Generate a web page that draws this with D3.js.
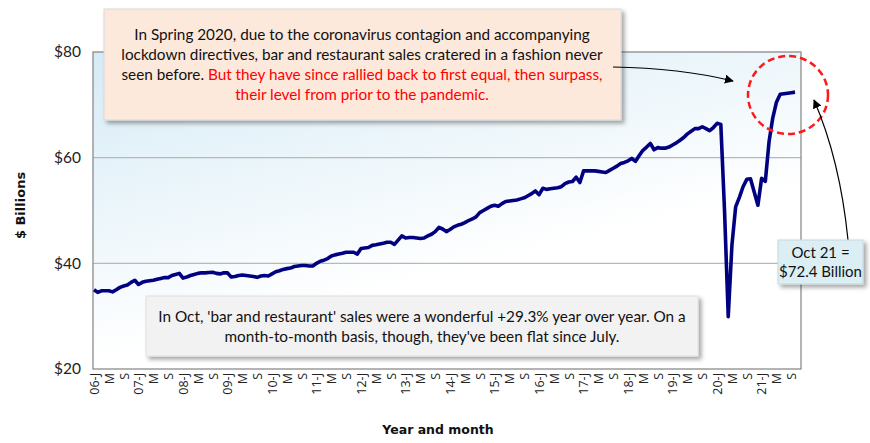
<!DOCTYPE html>
<html><head><meta charset="utf-8">
<script src="https://cdn.jsdelivr.net/npm/d3@7"></script>
<style>
body{margin:0;background:#fff;}
svg{display:block;}
</style></head>
<body><svg id="c" width="870" height="443"></svg>
<script>
// ---- data ----
const startYear = 2006;
const monthLetters = ["J","F","M","A","M","J","J","A","S","O","N","D"];
const values = [
  // 2006
  35.0,34.5,34.8,34.8,34.8,34.6,35.0,35.45,35.7,35.9,36.4,36.8,
  // 2007
  36.0,36.4,36.6,36.7,36.8,37.0,37.15,37.3,37.3,37.7,37.9,38.1,
  // 2008
  37.2,37.4,37.7,37.9,38.1,38.2,38.2,38.25,38.3,38.1,38.0,38.2,
  // 2009
  38.2,37.4,37.5,37.7,37.8,37.7,37.6,37.5,37.35,37.6,37.7,37.6,
  // 2010
  38.0,38.4,38.6,38.85,39.0,39.1,39.4,39.5,39.6,39.6,39.5,39.5,
  // 2011
  40.0,40.4,40.6,40.9,41.4,41.6,41.75,41.9,42.1,42.1,42.1,41.75,
  // 2012
  42.8,42.9,43.0,43.4,43.5,43.65,43.8,44.0,44.0,43.6,44.4,45.2,
  // 2013
  44.8,44.9,44.9,44.8,44.7,44.8,45.2,45.5,46.0,46.8,46.5,46.0,
  // 2014
  46.4,46.9,47.2,47.4,47.7,48.1,48.4,48.8,49.6,50.0,50.4,50.8,
  // 2015
  51.0,50.8,51.3,51.7,51.8,51.9,52.0,52.2,52.4,52.8,53.2,53.7,
  // 2016
  53.0,54.2,54.0,54.1,54.2,54.3,54.5,55.1,55.4,55.5,56.3,55.3,
  // 2017
  57.5,57.5,57.5,57.5,57.4,57.3,57.2,57.6,58.0,58.4,58.9,59.1,
  // 2018
  59.4,59.85,59.3,60.4,61.4,62.0,62.7,61.5,61.9,61.8,61.8,62.0,
  // 2019
  62.4,62.8,63.3,63.8,64.5,65.0,65.5,65.5,65.85,65.5,65.1,65.7,
  // 2020
  66.5,66.3,50.0,29.9,43.5,50.7,52.5,54.5,55.9,56.0,53.5,51.0,
  // 2021
  56.1,55.5,63.0,67.5,70.5,72.0,72.1,72.2,72.3,72.4
];
const yTicks = [20,40,60,80];
const yTickLabels = ["$20","$40","$60","$80"];
const yTitle = "$ Billions";
const xTitle = "Year and month";
const note1Black = ["In Spring 2020, due to the coronavirus contagion and accompanying",
                    "lockdown directives, bar and restaurant sales cratered in a fashion never"];
const note1Mixed = ["seen before. ", "But they have since rallied back to first equal, then surpass,"];
const note1Red = "their level from prior to the pandemic.";
const note2 = ["Oct 21 =", "$72.4 Billion"];
const note3 = ["In Oct, 'bar and restaurant' sales were a wonderful +29.3% year over year. On a",
               "month-to-month basis, though, they've been flat since July."];

// ---- derived categories ----
const cats = values.map((v,i)=>i);
function catLabel(i){
  const m = i % 12, y = startYear + Math.floor(i/12);
  return m===0 ? String(y).slice(2)+"-J" : monthLetters[m];
}
const tickCats = cats.filter(i => i % 4 === 0);

// ---- layout ----
const plot={l:93,t:52,r:801,b:369};
const svg=d3.select("#c");
const defs=svg.append("defs");
const grad=defs.append("linearGradient").attr("id","bg").attr("x1","0").attr("y1","0").attr("x2","0.55").attr("y2","1");
grad.append("stop").attr("offset","0").attr("stop-color","#d6ebf6");
grad.append("stop").attr("offset","0.75").attr("stop-color","#ffffff");
const sh=defs.append("filter").attr("id","sh").attr("x","-10%").attr("y","-10%").attr("width","130%").attr("height","140%");
sh.append("feDropShadow").attr("dx",3).attr("dy",3).attr("stdDeviation",2).attr("flood-color","#000").attr("flood-opacity",0.35);
defs.append("marker").attr("id","ah").attr("viewBox","0 0 10 10").attr("refX",9).attr("refY",5)
  .attr("markerWidth",9).attr("markerHeight",9).attr("orient","auto-start-reverse").attr("markerUnits","userSpaceOnUse")
  .append("path").attr("d","M0,0 L10,5 L0,10 z").attr("fill","#000");

const x=d3.scalePoint().domain(cats).range([plot.l+1,plot.r-6]);
const y=d3.scaleLinear().domain([20,80]).range([plot.b,plot.t]);

svg.append("rect").attr("x",plot.l).attr("y",plot.t).attr("width",plot.r-plot.l).attr("height",plot.b-plot.t).attr("fill","url(#bg)");

// gridlines
svg.append("g").selectAll("line").data(yTicks.filter(t=>t>20&&t<80)).join("line")
  .attr("x1",plot.l).attr("x2",plot.r).attr("y1",d=>y(d)).attr("y2",d=>y(d))
  .attr("stroke","#b8b8b8").attr("stroke-width",1.3);

svg.append("rect").attr("x",plot.l).attr("y",plot.t).attr("width",plot.r-plot.l).attr("height",plot.b-plot.t)
  .attr("fill","none").attr("stroke","#8c8c8c").attr("stroke-width",1.3);

// y axis labels
const yAxis=d3.axisLeft(y).tickValues(yTicks).tickFormat((d,i)=>yTickLabels[i]).tickSize(0).tickPadding(12);
const gy=svg.append("g").attr("transform",`translate(${plot.l},0)`).call(yAxis);
gy.select(".domain").remove();
gy.selectAll("text").attr("font-family","Lato, sans-serif").attr("font-size",15.5).attr("fill","#222");

// x axis labels
const xAxis=d3.axisBottom(x).tickValues(tickCats).tickFormat(catLabel).tickSize(0).tickPadding(0);
const gx=svg.append("g").attr("transform",`translate(0,${plot.b})`).call(xAxis);
gx.select(".domain").remove();
gx.selectAll("text").attr("font-family","'Open Sans', sans-serif").attr("font-size",12.5).attr("fill","#222")
  .attr("transform","rotate(-90)").attr("text-anchor","end").attr("dy","0.35em").attr("x",-4).attr("y",0);

// titles
svg.append("text").attr("transform",`translate(25,${(plot.t+plot.b)/2-5}) rotate(-90)`).attr("text-anchor","middle")
  .attr("font-family","'DejaVu Sans', sans-serif").attr("font-weight","bold").attr("font-size",13).attr("fill","#111").text(yTitle);
svg.append("text").attr("x",438).attr("y",434).attr("text-anchor","middle")
  .attr("font-family","'DejaVu Sans', sans-serif").attr("font-weight","bold").attr("font-size",12.5).attr("fill","#111").text(xTitle);

// line
svg.append("path").datum(values).attr("fill","none").attr("stroke","#000080").attr("stroke-width",3.6)
  .attr("stroke-linejoin","round")
  .attr("d",d3.line().x((d,i)=>x(i)).y(d=>y(d)));

// note 1
const f="Lato, sans-serif";
svg.append("rect").attr("x",104).attr("y",9).attr("width",517).attr("height",111).attr("fill","#fde9db")
  .attr("stroke","#d9d9d9").attr("stroke-width",1).attr("filter","url(#sh)");
const n1=svg.append("g").attr("font-family",f).attr("font-size",15.3).attr("text-anchor","middle").attr("fill","#111");
note1Black.forEach((t,i)=>n1.append("text").attr("x",362).attr("y",40+i*20).text(t));
const t3=n1.append("text").attr("x",362).attr("y",80);
t3.append("tspan").text(note1Mixed[0]);
t3.append("tspan").attr("fill","#ff0000").text(note1Mixed[1]);
n1.append("text").attr("x",362).attr("y",100).attr("fill","#ff0000").text(note1Red);

// note 3
svg.append("rect").attr("x",146).attr("y",296).attr("width",552).attr("height",60).attr("fill","#f2f2f2")
  .attr("stroke","#e0e0e0").attr("stroke-width",1).attr("filter","url(#sh)");
const n3=svg.append("g").attr("font-family",f).attr("font-size",15.3).attr("text-anchor","middle").attr("fill","#111");
note3.forEach((t,i)=>n3.append("text").attr("x",422).attr("y",322+i*20).text(t));

// circle
svg.append("ellipse").attr("cx",788).attr("cy",95).attr("rx",40).attr("ry",39).attr("fill","none")
  .attr("stroke","#ff1a1a").attr("stroke-width",2.5).attr("stroke-dasharray","7,4");

// arrows
svg.append("path").attr("d","M613,67 Q680,68 733,81").attr("fill","none").attr("stroke","#000").attr("stroke-width",1.2).attr("marker-end","url(#ah)");
svg.append("path").attr("d","M848,240 Q840,160 814,100").attr("fill","none").attr("stroke","#000").attr("stroke-width",1.2).attr("marker-end","url(#ah)");

// note 2
svg.append("rect").attr("x",778).attr("y",240).attr("width",85).attr("height",44).attr("fill","#daeef3")
  .attr("stroke","#c8d8de").attr("stroke-width",1).attr("filter","url(#sh)");
const n2=svg.append("g").attr("font-family",f).attr("font-size",15).attr("text-anchor","middle").attr("fill","#111");
note2.forEach((t,i)=>n2.append("text").attr("x",820.5).attr("y",258+i*19).text(t));
</script></body></html>
